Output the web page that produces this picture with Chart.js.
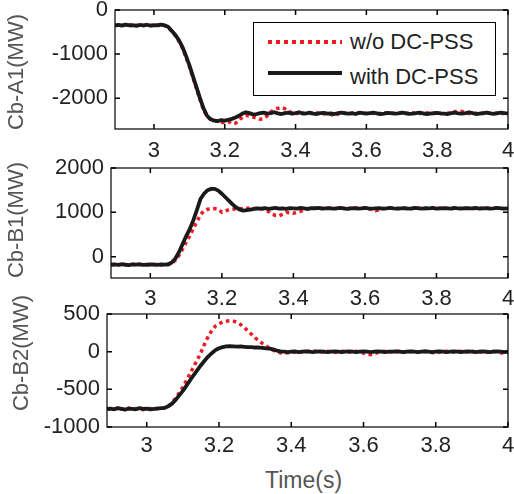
<!DOCTYPE html>
<html>
<head>
<meta charset="utf-8">
<script src="https://cdn.jsdelivr.net/npm/chart.js@4.4.1/dist/chart.umd.min.js"></script>
<style>
  body { margin: 0; background: #fff; width: 514px; height: 494px; overflow: hidden; position: relative;
         font-family: "Liberation Sans", Arial, sans-serif; }
  canvas { position: absolute; left: 0; }
  .ytitle { position: absolute; width: 160px; height: 26px; line-height: 26px; font-size: 22px;
            text-align: center; color: #555; transform: rotate(-90deg); white-space: nowrap; }
  #legend { position: absolute; left: 253px; top: 22px; width: 243px; height: 74px;
            border: 1px solid #000; background: #fff; box-sizing: border-box; }
  .ltext { position: absolute; left: 96px; font-size: 22px; line-height: 22px; color: #222; white-space: nowrap; }
  #xtitle { position: absolute; left: 265px; top: 469px; font-size: 23px; line-height: 23px; color: #555; }
</style>
</head>
<body>
<canvas id="c1"></canvas>
<canvas id="c2"></canvas>
<canvas id="c3"></canvas>
<div class="ytitle" style="left:-64px; top:59px;">Cb-A1(MW)</div>
<div class="ytitle" style="left:-64px; top:207px;">Cb-B1(MW)</div>
<div class="ytitle" style="left:-59px; top:340px;">Cb-B2(MW)</div>
<div id="legend">
  <svg width="243" height="74" style="position:absolute;left:-1px;top:-1px">
    <line x1="15" y1="20" x2="89" y2="20" stroke="#ee1c25" stroke-width="4" stroke-dasharray="4 4"/>
    <line x1="15" y1="51" x2="89" y2="51" stroke="#1a1a1a" stroke-width="4"/>
  </svg>
  <div class="ltext" style="top:8px;">w/o DC-PSS</div>
  <div class="ltext" style="top:43px;">with DC-PSS</div>
</div>
<div id="xtitle">Time(s)</div>
<script>
// time base (s)
const time = [
  2.89, 2.90, 2.91, 2.92, 2.93, 2.94, 2.95, 2.96, 2.97, 2.98, 2.99,
  3.00, 3.01, 3.02, 3.03, 3.04, 3.05, 3.06, 3.07, 3.08, 3.09,
  3.10, 3.11, 3.12, 3.13, 3.14, 3.15, 3.16, 3.17, 3.18, 3.19,
  3.20, 3.21, 3.22, 3.23, 3.24, 3.25, 3.26, 3.27, 3.28, 3.29,
  3.30, 3.31, 3.32, 3.33, 3.34, 3.35, 3.36, 3.37, 3.38, 3.39,
  3.40, 3.41, 3.42, 3.43, 3.44, 3.45, 3.46, 3.47, 3.48, 3.49,
  3.50, 3.51, 3.52, 3.53, 3.54, 3.55, 3.56, 3.57, 3.58, 3.59,
  3.60, 3.61, 3.62, 3.63, 3.64, 3.65, 3.66, 3.67, 3.68, 3.69,
  3.70, 3.71, 3.72, 3.73, 3.74, 3.75, 3.76, 3.77, 3.78, 3.79,
  3.80, 3.81, 3.82, 3.83, 3.84, 3.85, 3.86, 3.87, 3.88, 3.89,
  3.90, 3.91, 3.92, 3.93, 3.94, 3.95, 3.96, 3.97, 3.98, 3.99,
  4.00
];

// Cb-A1 (MW)
const a1With = [
  -350, -340, -355, -330, -350, -345, -360, -340, -350, -335, -355,
  -345, -350, -330, -350, -380, -470, -560, -680, -830, -1030,
  -1250, -1500, -1750, -2000, -2230, -2400, -2480, -2510, -2520, -2500,
  -2510, -2490, -2470, -2440, -2400, -2350, -2320, -2340, -2370, -2360,
  -2340, -2330, -2350, -2340, -2320, -2345, -2360, -2340, -2330, -2350,
  -2340, -2320, -2350, -2345, -2330, -2350, -2360, -2340, -2335, -2350,
  -2345, -2360, -2340, -2330, -2345, -2350, -2340, -2360, -2330, -2340,
  -2350, -2340, -2330, -2345, -2360, -2350, -2335, -2340, -2350, -2345,
  -2330, -2340, -2355, -2350, -2340, -2330, -2345, -2360, -2350, -2340,
  -2335, -2345, -2350, -2360, -2340, -2330, -2345, -2350, -2340, -2320,
  -2340, -2360, -2350, -2340, -2330, -2345, -2355, -2340, -2330, -2340,
  -2345
];
const a1Without = [
  -345, -355, -340, -350, -335, -360, -345, -350, -355, -340, -350,
  -350, -340, -355, -345, -390, -480, -580, -700, -860, -1060,
  -1280, -1530, -1780, -2030, -2260, -2420, -2470, -2490, -2530, -2550,
  -2560, -2530, -2580, -2570, -2510, -2430, -2390, -2410, -2430, -2450,
  -2480, -2470, -2400, -2310, -2260, -2230, -2210, -2240, -2290, -2330,
  -2350, -2340, -2330, -2360, -2350, -2340, -2330, -2350, -2360, -2340,
  -2370, -2400, -2360, -2340, -2330, -2345, -2350, -2340, -2330, -2350,
  -2340, -2330, -2350, -2360, -2345, -2340, -2330, -2350, -2340, -2335,
  -2345, -2350, -2340, -2330, -2360, -2350, -2340, -2330, -2345, -2350,
  -2340, -2350, -2360, -2340, -2330, -2310, -2290, -2300, -2330, -2350,
  -2360, -2340, -2330, -2350, -2340, -2345, -2330, -2350, -2360, -2340,
  -2350
];

// Cb-B1 (MW)
const b1With = [
  -180, -175, -185, -170, -180, -190, -175, -180, -170, -185, -180,
  -175, -180, -185, -175, -180, -170, -130, -40, 100, 280,
  460, 620, 820, 1050, 1300, 1420, 1500, 1530, 1530, 1490,
  1420, 1340, 1260, 1180, 1110, 1060, 1040, 1050, 1060, 1080,
  1090, 1085, 1095, 1080, 1090, 1100, 1085, 1090, 1080, 1095,
  1090, 1085, 1100, 1090, 1080, 1095, 1090, 1100, 1085, 1090,
  1095, 1085, 1090, 1100, 1090, 1080, 1090, 1095, 1085, 1090,
  1100, 1090, 1085, 1090, 1095, 1085, 1090, 1100, 1090, 1085,
  1090, 1095, 1085, 1090, 1100, 1090, 1085, 1095, 1090, 1100,
  1085, 1090, 1095, 1090, 1085, 1100, 1090, 1085, 1095, 1090,
  1090, 1100, 1085, 1090, 1095, 1085, 1090, 1100, 1090, 1085,
  1090
];
const b1Without = [
  -175, -185, -180, -175, -190, -180, -170, -185, -180, -175, -185,
  -180, -175, -180, -185, -175, -180, -150, -80, 30, 170,
  320, 470, 630, 790, 940, 1040, 1070, 1080, 1085, 1070,
  1000, 1030, 1060, 1070, 1080, 1085, 1075, 1090, 1095, 1085,
  1090, 1080, 1060, 1020, 960, 930, 920, 960, 1000, 990,
  980, 1000, 1020, 1060, 1080, 1090, 1100, 1095, 1090, 1085,
  1100, 1090, 1085, 1095, 1090, 1080, 1090, 1095, 1100, 1085,
  1090, 1080, 1060, 1040, 1060, 1085, 1090, 1095, 1090, 1085,
  1090, 1095, 1085, 1080, 1090, 1100, 1090, 1085, 1095, 1090,
  1085, 1090, 1100, 1090, 1080, 1090, 1095, 1090, 1085, 1100,
  1090, 1085, 1095, 1090, 1100, 1085, 1090, 1095, 1090, 1085,
  1095
];

// Cb-B2 (MW)
const b2With = [
  -760, -755, -765, -750, -760, -770, -755, -760, -765, -750, -760,
  -755, -765, -760, -755, -750, -745, -725, -690, -640, -580,
  -520, -450, -380, -310, -245, -180, -120, -65, -20, 20,
  45, 60, 70, 72, 70, 68, 70, 65, 60, 60,
  55, 55, 50, 45, 40, 30, 15, 5, 0, -5,
  0, 5, -5, 0, 5, 0, -5, 0, 5, 0,
  -5, 0, 5, 0, -5, 0, 5, 0, -5, 0,
  5, 0, -5, 0, 5, 0, -5, 0, 0, 5,
  0, -5, 0, 5, 0, -5, 0, 5, 0, -5,
  0, 5, 0, -5, 0, 5, 0, -5, 0, 5,
  0, -5, 0, 5, 0, -5, 0, 5, 0, -5,
  0
];
const b2Without = [
  -755, -765, -760, -750, -765, -760, -750, -765, -755, -760, -770,
  -760, -755, -765, -750, -755, -745, -720, -680, -620, -550,
  -470, -380, -290, -200, -110, -10, 100, 200, 280, 340,
  370, 395, 405, 410, 405, 390, 360, 320, 275, 230,
  185, 145, 110, 75, 45, 20, 0, -15, -20, -15,
  -10, -5, 0, -5, 0, 5, 10, 5, 0, -5,
  5, 0, -10, 0, 5, 0, -5, 0, 5, -5,
  -20, -30, -40, -25, -10, 0, 5, 0, -5, 0,
  5, 0, -10, 0, 5, -5, 0, 5, 0, -10,
  -20, -5, 0, 5, 0, -5, 0, 5, -5, 0,
  5, 0, -5, 0, -10, 0, 5, -5, -15, -25,
  -10
];

const xTicks = [3, 3.2, 3.4, 3.6, 3.8, 4];
const xLabels = ['3', '3.2', '3.4', '3.6', '3.8', '4'];
const a1Ticks = [-2000, -1000, 0];
const a1Labels = ['-2000', '-1000', '0'];
const b1Ticks = [0, 1000, 2000];
const b1Labels = ['0', '1000', '2000'];
const b2Ticks = [-1000, -500, 0, 500];
const b2Labels = ['-1000', '-500', '0', '500'];

const W = 514;
const RIGHT = 508;      // right edge of every plot box
const RED = '#ee1c25';
const BLACK = '#1a1a1a';
const TICK = '#222';

Chart.defaults.font.family = "'Liberation Sans', Arial, sans-serif";

// box round the plot and the short inward ticks, matlab style
const frame = {
  id: 'frame',
  afterDatasetsDraw(chart) {
    const { ctx, chartArea: a, scales } = chart;
    ctx.save();
    ctx.strokeStyle = '#000';
    ctx.lineWidth = 1.2;
    ctx.strokeRect(a.left, a.top, a.right - a.left, a.bottom - a.top);
    ctx.lineWidth = 1.5;
    ctx.beginPath();
    scales.x.ticks.forEach(t => {
      const px = scales.x.getPixelForValue(t.value);
      ctx.moveTo(px, a.bottom); ctx.lineTo(px, a.bottom - 5);
      ctx.moveTo(px, a.top); ctx.lineTo(px, a.top + 5);
    });
    scales.y.ticks.forEach(t => {
      const py = scales.y.getPixelForValue(t.value);
      ctx.moveTo(a.left, py); ctx.lineTo(a.left + 5, py);
      ctx.moveTo(a.right, py); ctx.lineTo(a.right - 5, py);
    });
    ctx.stroke();
    ctx.restore();
  }
};

function panel(id, top, height, box, withDc, withoutDc, yMin, yMax, yTicks, yLabels, labelPad) {
  const cv = document.getElementById(id);
  cv.width = W;
  cv.height = height;
  cv.style.top = top + 'px';
  const pts = arr => arr.map((v, i) => ({ x: time[i], y: v }));
  return new Chart(cv, {
    type: 'line',
    data: {
      datasets: [
        { label: 'with DC-PSS', data: pts(withDc), borderColor: BLACK, borderWidth: 3.8,
          pointRadius: 0, tension: 0, borderJoinStyle: 'round' },
        { label: 'w/o DC-PSS', data: pts(withoutDc), borderColor: RED, borderWidth: 3.5,
          borderDash: [3.5, 3.5], pointRadius: 0, tension: 0 }
      ]
    },
    options: {
      responsive: false,
      animation: false,
      devicePixelRatio: 1,
      layout: { padding: { left: 0, right: W - RIGHT, top: box.top - top, bottom: 0 } },
      plugins: { legend: { display: false }, tooltip: { enabled: false } },
      scales: {
        x: {
          type: 'linear', min: 2.89, max: 4,
          grid: { display: false, drawTicks: false }, border: { display: false },
          afterBuildTicks: s => { s.ticks = xTicks.map(v => ({ value: v })); },
          afterFit: s => { s.height = top + height - box.bottom; s.paddingLeft = 0; s.paddingRight = 0; },
          ticks: { padding: labelPad, color: TICK, font: { size: 22 }, maxRotation: 0, autoSkip: false,
                   callback: (v, i) => xLabels[i] }
        },
        y: {
          min: yMin, max: yMax,
          grid: { display: false, drawTicks: false }, border: { display: false },
          afterBuildTicks: s => { s.ticks = yTicks.map(v => ({ value: v })); },
          afterFit: s => { s.width = box.left; s.paddingTop = 0; s.paddingBottom = 0; },
          ticks: { padding: 7, color: TICK, font: { size: 22 }, autoSkip: false,
                   callback: (v, i) => yLabels[i] }
        }
      }
    },
    plugins: [frame]
  });
}

panel('c1', 0, 160, { left: 115, top: 10, bottom: 129 }, a1With, a1Without, -2700, 0, a1Ticks, a1Labels, 9);
panel('c2', 152, 155, { left: 111, top: 168, bottom: 278 }, b1With, b1Without, -480, 2000, b1Ticks, b1Labels, 8);
panel('c3', 296, 161, { left: 107, top: 314, bottom: 427 }, b2With, b2Without, -1000, 500, b2Ticks, b2Labels, 6);
</script>
</body>
</html>
